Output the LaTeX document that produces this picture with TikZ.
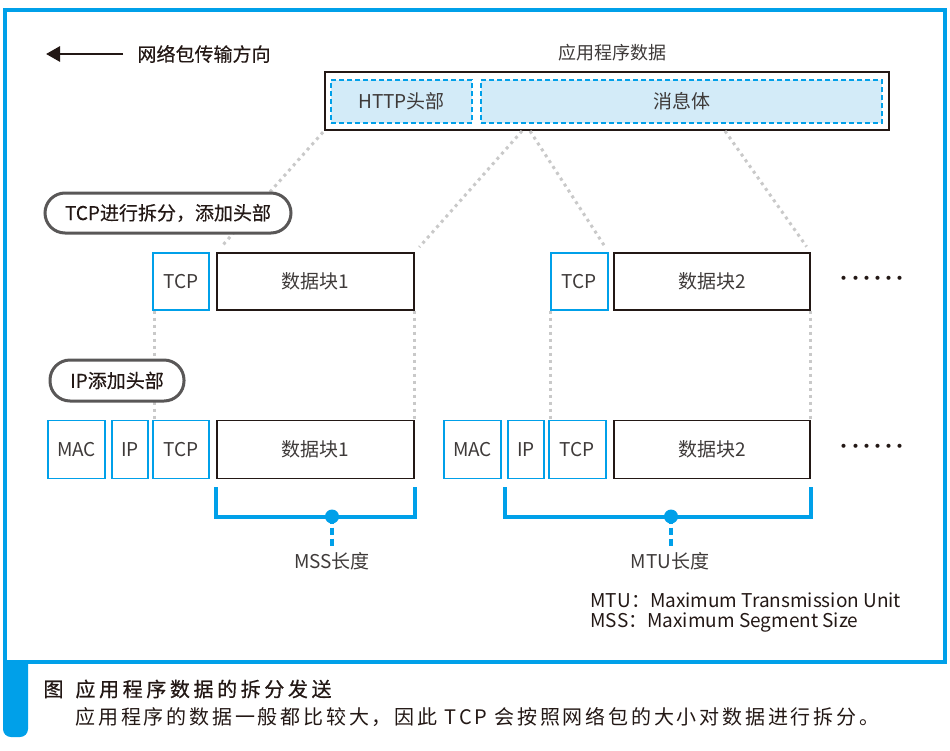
\documentclass[tikz,border=0pt]{standalone}
\usepackage{fontspec}
\setmainfont{Noto Sans CJK SC}
\usetikzlibrary{arrows.meta,calc}
\definecolor{cblue}{HTML}{00A0E9}
\definecolor{lblue}{HTML}{D3EBF8}
\definecolor{dgray}{HTML}{C9C9C9}
\definecolor{txt}{HTML}{3E3A39}
\definecolor{blk}{HTML}{231815}
\definecolor{lblgray}{HTML}{595757}
\begin{document}
\begin{tikzpicture}[x=1pt,y=-1pt,font=\fontsize{19}{22}\selectfont,
  box/.style={draw=blk,line width=1.3pt,minimum height=57pt,inner sep=0pt,text=txt},
  hbox/.style={draw=cblue,line width=1.3pt,minimum height=57pt,inner sep=0pt,text=txt},
  dbox/.style={draw=cblue,dash pattern=on 5pt off 3pt,fill=lblue,line width=1.2pt,minimum height=43pt,inner sep=0pt,text=txt},
  pill/.style={draw=lblgray,line width=3pt,fill=white,rounded corners=20pt,minimum height=40pt,inner sep=0pt,text=blk,font=\fontsize{19}{22}\selectfont\addfontfeatures{FakeBold=0.3}},
  gdot/.style={draw=dgray,line width=3.5pt,dash pattern=on 3.5pt off 3.5pt},
  ddot/.style={draw=dgray,line width=3pt,dash pattern=on 3pt off 4pt},
  brk/.style={draw=cblue,line width=4pt},
  bdash/.style={draw=cblue,line width=4pt,dash pattern=on 7pt off 4pt},
  more/.style={text=blk,font=\fontsize{19}{22}\selectfont\addfontfeatures{LetterSpace=-42}},
]
\useasboundingbox (0,0) rectangle (950,750);
% frame
\draw[cblue,line width=4pt] (5,10) rectangle (945,662);
\begin{scope}
  \clip (0,660) rectangle (40,750);
  \fill[cblue,rounded corners=8pt] (3,640) rectangle (28,737);
\end{scope}

% direction arrow
\coordinate (arrS) at (123,54);
\coordinate (arrE) at (46,54);
\draw[blk,line width=2.8pt,-{Triangle[length=14pt,width=15pt]}] (arrS) -- (arrE);
\node[anchor=west,text=blk,font=\fontsize{19}{22}\selectfont\addfontfeatures{FakeBold=0.4}] (dir) at (134,54) {网络包传输方向};

% application data
\node[text=txt,font=\fontsize{18}{22}\selectfont] (applbl) at (612,53) {应用程序数据};
\node[box,minimum width=564pt,minimum height=58pt] (app) at (607,101) {};
\node[dbox,minimum width=141pt] (http) at (401.5,101.5) {HTTP头部};
\node[dbox,minimum width=401pt] (body) at (681.5,101.5) {消息体};

% row 1
\node[hbox,minimum width=56pt] (tcpA) at (181,281.5) {TCP};
\node[box,minimum width=197pt] (dataA) at (315.5,281.5) {数据块1};
\node[hbox,minimum width=57pt] (tcpB) at (579.5,281.5) {TCP};
\node[box,minimum width=196pt] (dataB) at (712,281.5) {数据块2};
\node[more] (moreA) at (872,281) {······};

% row 2
\node[hbox,minimum width=57pt,minimum height=58pt] (macA) at (76.5,449.5) {MAC};
\node[hbox,minimum width=36pt,minimum height=58pt] (ipA) at (130,449.5) {IP};
\node[hbox,minimum width=56pt,minimum height=58pt] (tcpA2) at (181,449.5) {TCP};
\node[box,minimum width=197pt,minimum height=58pt] (dataA2) at (315.5,449.5) {数据块1};
\node[hbox,minimum width=57pt,minimum height=58pt] (macB) at (472.5,449.5) {MAC};
\node[hbox,minimum width=36pt,minimum height=58pt] (ipB) at (526,449.5) {IP};
\node[hbox,minimum width=57pt,minimum height=58pt] (tcpB2) at (577.5,449.5) {TCP};
\node[box,minimum width=196pt,minimum height=58pt] (dataB2) at (712,449.5) {数据块2};
\node[more] (moreB) at (872,449) {······};

% diagonal dotted lines
\coordinate (s2) at (522,131);
\coordinate (s3) at (530,131);
\coordinate (s4) at (725,131);
\draw[ddot,shorten <=2pt,shorten >=7pt] (app.south west) -- (dataA.north west);
\draw[ddot,shorten >=7pt] (s2) -- (dataA.north east);
\draw[ddot,shorten >=7pt] (s3) -- (tcpB.north east);
\draw[ddot,shorten >=7pt] (s4) -- (dataB.north east);

% vertical dotted lines
\draw[gdot] ($(tcpA.south west)+(2,0)$) -- ($(tcpA2.north west)+(2,0)$);
\draw[gdot] (dataA.south east) -- (dataA2.north east);
\draw[gdot] (tcpB.south west) -- (tcpB.south west |- tcpB2.north);
\draw[gdot] (dataB.south east) -- (dataB2.north east);

% step labels
\node[pill,minimum width=246pt] (tcpstep) at (168,213) {TCP进行拆分，添加头部};
\node[pill,minimum width=134pt,minimum height=41pt] (ipstep) at (117,380.5) {IP添加头部};

% brackets
\draw[brk] ($(dataA2.south west)+(0,8)$) -- ($(dataA2.south west)+(0,38)$) -- ($(dataA2.south east)+(0,38)$) -- ($(dataA2.south east)+(0,8)$);
\draw[brk] ($(ipB.south west)+(-2,8)$) -- ($(ipB.south west)+(-2,38)$) -- ($(dataB2.south east)+(0,38)$) -- ($(dataB2.south east)+(0,8)$);
\coordinate (mssdot) at (332,516.5);
\coordinate (mtudot) at (671,516.5);
\node[text=txt] (msslbl) at (332,561) {MSS长度};
\node[text=txt] (mtulbl) at (670,561) {MTU长度};
\draw[bdash] (mssdot) -- (332,548);
\draw[bdash] (mtudot) -- (671,548);
\fill[cblue] (mssdot) circle (7pt);
\fill[cblue] (mtudot) circle (7pt);

% legend
\node[anchor=west,text=blk] (leg1) at (587,600) {MTU：Maximum Transmission Unit};
\node[anchor=west,text=blk] (leg2) at (587,623) {MSS：Maximum Segment Size};

% caption
\node[anchor=west,text=blk,font=\fontsize{20}{24}\selectfont\addfontfeatures{LetterSpace=18,FakeBold=0.6}] (cap1) at (40,689) {图\hspace{0.6em}应用程序数据的拆分发送};
\node[anchor=west,text=blk,font=\fontsize{20}{24}\selectfont\addfontfeatures{LetterSpace=14}] (cap2) at (72,717) {应用程序的数据一般都比较大，因此 TCP 会按照网络包的大小对数据进行拆分。};
\end{tikzpicture}
\end{document}
